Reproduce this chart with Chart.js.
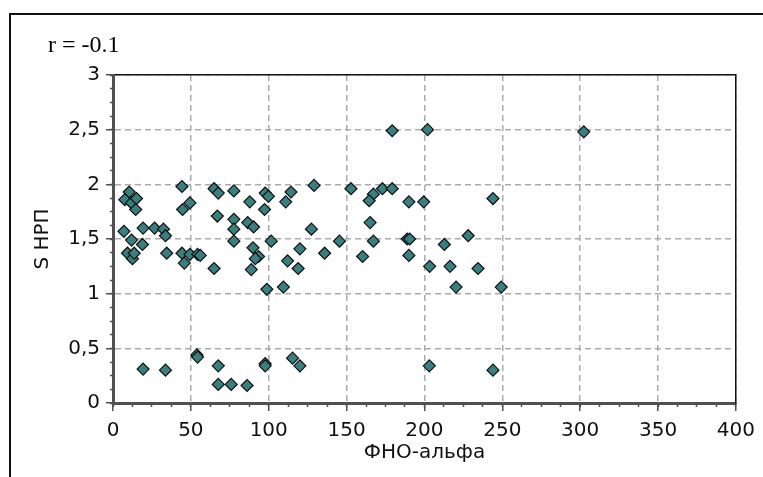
<!DOCTYPE html>
<html>
<head>
<meta charset="utf-8">
<script src="https://cdn.jsdelivr.net/npm/chart.js@4/dist/chart.umd.min.js"></script>
<style>
  html, body { margin: 0; padding: 0; background: #fff; }
  #wrap { width: 763px; height: 477px; }
</style>
</head>
<body>
<div id="wrap"><canvas id="scatter" width="763" height="477"></canvas></div>
<script>
// values
const xValues = [
  10.4, 7.6, 11.9, 15.1, 14.6, 7.0, 11.9, 19.3, 26.7, 32.4, 33.7, 18.9, 9.3, 12.5, 13.6, 34.5,
  44.3, 49.4, 44.7, 44.3, 45.8, 49.4, 54.3, 56.0, 64.9, 67.6, 67.0, 64.9, 77.6, 77.6, 77.6, 77.6,
  87.8, 86.5, 90.3, 101.6, 89.9, 93.5, 91.4, 88.8, 97.7, 99.8, 97.3, 98.8, 109.4, 110.9, 112.1, 114.3,
  129.1, 127.4, 120.0, 118.9, 135.9, 145.4, 152.8, 167.2, 164.5, 173.0, 179.3, 165.1, 167.2, 160.3,
  190.0, 199.5, 188.9, 190.5, 190.0, 203.3, 216.4, 212.8, 228.1, 234.4, 220.3, 244.0, 249.3,
  179.3, 202.0, 302.3,
  19.3, 33.7, 53.9, 54.3, 67.6, 67.6, 75.9, 86.1, 97.7, 97.7, 115.3, 120.0, 203.1, 244.0
];
const yValues = [
  1.93, 1.86, 1.83, 1.87, 1.77, 1.57, 1.49, 1.60, 1.60, 1.59, 1.53, 1.45, 1.37, 1.32, 1.37, 1.37,
  1.98, 1.83, 1.77, 1.37, 1.28, 1.36, 1.36, 1.35, 1.96, 1.92, 1.71, 1.23, 1.94, 1.68, 1.59, 1.48,
  1.84, 1.65, 1.61, 1.48, 1.42, 1.34, 1.32, 1.22, 1.92, 1.89, 1.77, 1.04, 1.06, 1.84, 1.30, 1.93,
  1.99, 1.59, 1.41, 1.23, 1.37, 1.48, 1.96, 1.91, 1.85, 1.96, 1.96, 1.65, 1.48, 1.34,
  1.84, 1.84, 1.50, 1.50, 1.35, 1.25, 1.25, 1.45, 1.53, 1.23, 1.06, 1.87, 1.06,
  2.49, 2.50, 2.48,
  0.31, 0.30, 0.44, 0.42, 0.34, 0.17, 0.17, 0.16, 0.36, 0.34, 0.41, 0.34, 0.34, 0.30
];
const xTicks = ['0', '50', '100', '150', '200', '250', '300', '350', '400'];
const yTickLabels = ['0', '0,5', '1', '1,5', '2', '2,5', '3'];
const xTitle = 'ФНО-альфа';
const yTitle = 'S НРП';
const note = 'r = -0.1';

const points = xValues.map((x, i) => ({ x: x, y: yValues[i] }));

const tickFont = { family: 'DejaVu Sans', size: 20 };
const axisDark = '#505050';
const gridGray = '#ababab';

// outer frame and the r label
const decor = {
  id: 'decor',
  beforeDraw(chart) {
    const ctx = chart.ctx;
    ctx.save();
    ctx.fillStyle = '#fff';
    ctx.fillRect(0, 0, chart.width, chart.height);
    ctx.strokeStyle = '#111';
    ctx.lineWidth = 2;
    ctx.beginPath();
    ctx.moveTo(10, chart.height);
    ctx.lineTo(10, 14);
    ctx.lineTo(chart.width, 14);
    ctx.stroke();
    ctx.fillStyle = '#000';
    ctx.font = '24px "Liberation Serif"';
    ctx.textBaseline = 'alphabetic';
    ctx.fillText(note, 48, 52);
    ctx.restore();
  }
};

new Chart(document.getElementById('scatter'), {
  type: 'scatter',
  data: {
    datasets: [{
      data: points,
      pointStyle: 'rectRot',
      pointRadius: 6,
      pointHoverRadius: 6,
      backgroundColor: '#3a7f7f',
      borderColor: '#111',
      borderWidth: 1.2
    }]
  },
  options: {
    responsive: false,
    animation: false,
    layout: { padding: { left: 0, top: 75, right: 21, bottom: 0 } },
    plugins: { legend: { display: false }, tooltip: { enabled: false } },
    scales: {
      x: {
        type: 'linear', position: 'bottom', weight: 1,
        min: 0, max: 400,
        afterFit: (s) => { s.height = 74; },
        ticks: {
          stepSize: 50, padding: 8, color: '#111', font: tickFont,
          callback: (v, i) => xTicks[i]
        },
        grid: {
          color: gridGray, lineWidth: 1.5,
          tickLength: 8, tickColor: axisDark, tickWidth: 1.5, tickBorderDash: []
        },
        border: { color: axisDark, width: 3, dash: [6, 4] },
        title: {
          display: true, text: xTitle, color: '#111',
          font: { family: 'DejaVu Sans', size: 20, lineHeight: 1.2 },
          padding: { top: 0, bottom: 12 }
        }
      },
      xMinor: {
        type: 'linear', position: 'bottom', weight: 0,
        min: 0, max: 400,
        afterFit: (s) => { s.height = 0; },
        ticks: { stepSize: 12.5, display: false },
        grid: { drawOnChartArea: false, tickLength: 4, tickColor: axisDark, tickWidth: 1.5 },
        border: { display: false }
      },
      xTop: {
        type: 'linear', position: 'top',
        min: 0, max: 400,
        afterFit: (s) => { s.height = 0; },
        ticks: { display: false },
        grid: { display: false },
        border: { color: '#111', width: 1.5 }
      },
      y: {
        type: 'linear', position: 'left', weight: 1,
        min: 0, max: 3,
        afterFit: (s) => { s.width = 113; },
        ticks: {
          stepSize: 0.5, padding: 6, color: '#111', font: tickFont,
          callback: (v, i) => yTickLabels[i]
        },
        grid: {
          color: gridGray, lineWidth: 1.5,
          tickLength: 7, tickColor: axisDark, tickWidth: 1.5, tickBorderDash: []
        },
        border: { color: axisDark, width: 3, dash: [6, 4] },
        title: {
          display: true, text: yTitle, color: '#111',
          font: { family: 'DejaVu Sans', size: 20, lineHeight: 1.2 },
          padding: { top: 31, bottom: 0 }
        }
      },
      yMinor: {
        type: 'linear', position: 'left', weight: 0,
        min: 0, max: 3,
        afterFit: (s) => { s.width = 0; },
        ticks: { stepSize: 0.125, display: false },
        grid: { drawOnChartArea: false, tickLength: 3, tickColor: axisDark, tickWidth: 1.5 },
        border: { display: false }
      },
      yRight: {
        type: 'linear', position: 'right',
        min: 0, max: 3,
        afterFit: (s) => { s.width = 0; },
        ticks: { display: false },
        grid: { display: false },
        border: { color: '#111', width: 1.5 }
      }
    }
  },
  plugins: [decor]
});
</script>
</body>
</html>
